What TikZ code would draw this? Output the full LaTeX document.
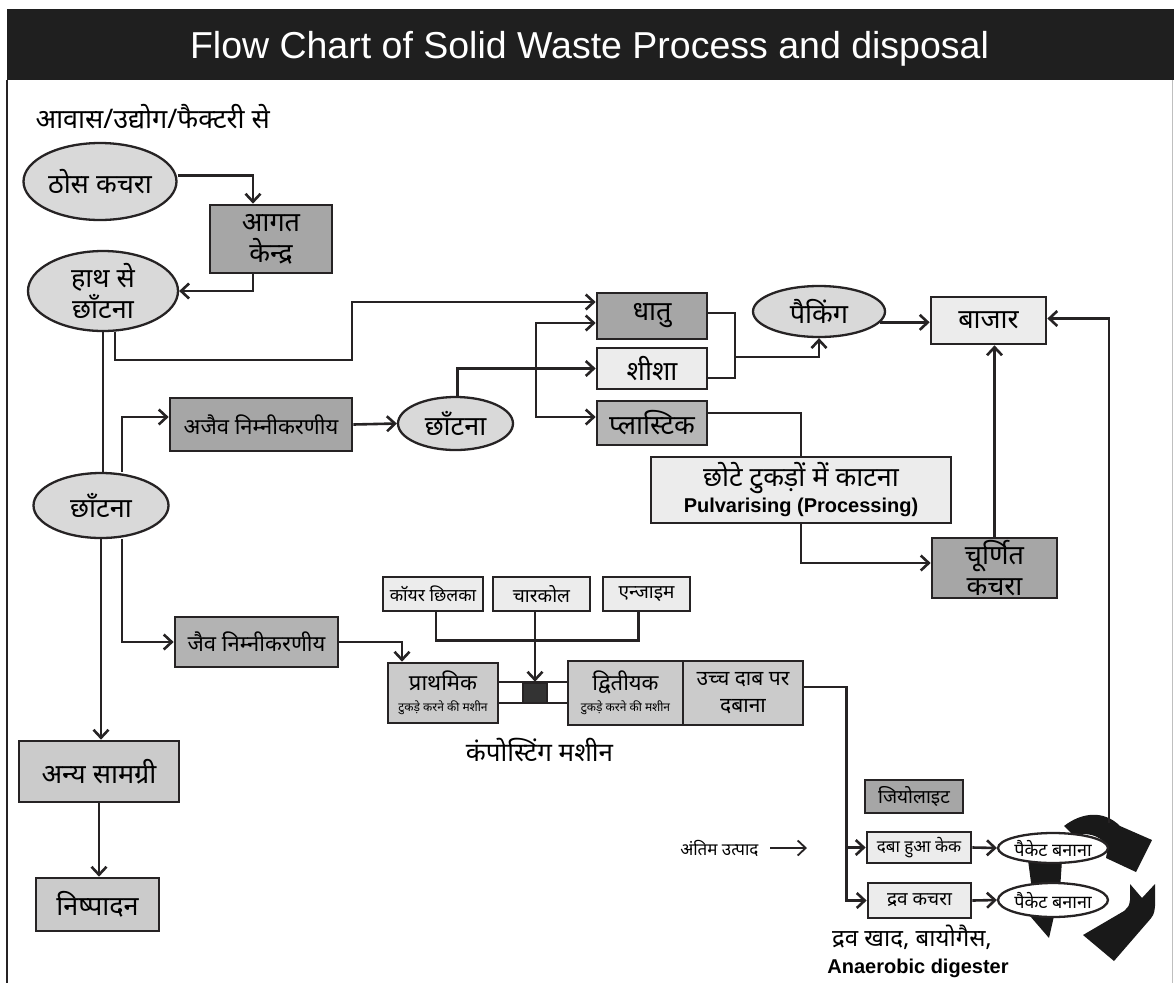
\documentclass[tikz,border=0pt]{standalone}
\usepackage{fontspec}
\setmainfont{Noto Sans}[Script=Devanagari]
\newfontfamily\latinfont{Liberation Sans}
\usetikzlibrary{positioning, calc, arrows.meta, shapes.geometric}
\definecolor{boxdark}{RGB}{166,166,166}
\definecolor{boxplast}{RGB}{182,182,182}
\definecolor{boxmid}{RGB}{203,203,203}
\definecolor{boxlight}{RGB}{236,236,236}
\definecolor{ovalgray}{RGB}{217,217,217}
\definecolor{inkline}{RGB}{38,35,36}

\begin{document}
\begin{tikzpicture}[x=1pt, y=-1pt,
  hin/.style={font=\fontsize{27}{31}\selectfont},
  hinsmall/.style={font=\fontsize{19}{22}\selectfont},
  stage/.style={rectangle, draw=inkline, line width=2.7pt, inner sep=0pt, align=center, hin},
  darkstage/.style={stage, fill=boxdark},
  midstage/.style={stage, fill=boxmid},
  lightstage/.style={stage, fill=boxlight},
  oval/.style={ellipse, draw=inkline, line width=2.3pt, fill=ovalgray, inner xsep=-6pt, inner ysep=-10pt, align=center, hin},
  packoval/.style={ellipse, draw=inkline, line width=2.3pt, fill=white, inner xsep=-14pt, inner ysep=-4pt, font=\fontsize{18}{20}\selectfont},
  wire/.style={draw=inkline, line width=2.6pt},
  conn/.style={wire, -{Straight Barb[length=8pt, width=15pt]}},
  cycfill/.style={fill=black!90}
]
\useasboundingbox (0,0) rectangle (1174,983);

% frame and title bar
\fill[black!88] (7,9) rectangle (1174,80);
\node[font=\latinfont\fontsize{37.5}{40}\selectfont, text=white, anchor=base] (title) at (589.5,58) {Flow Chart of Solid Waste Process and disposal};
\draw[inkline, line width=2.6pt] (7,80) -- (7,983);
\draw[black!25, line width=1pt] (1172,80) -- (1172,983);

% left column
\node[hin, anchor=west] (source) at (32,117) {आवास/उद्योग/फैक्टरी से};
\node[oval, minimum width=153, minimum height=77] (thos) at (100,181.5) {ठोस कचरा};
\node[darkstage, minimum width=122, minimum height=68] (aagat) at (271,239) {आगत\\केन्द्र};
\node[oval, minimum width=150, minimum height=80] (haath) at (103,291) {हाथ से\\छाँटना};
\node[oval, minimum width=135, minimum height=65] (chhant1) at (101,505.5) {छाँटना};
\node[darkstage, font=\fontsize{22}{26}\selectfont, minimum width=182, minimum height=53] (ajaiv) at (261,424.5) {अजैव निम्नीकरणीय};
\node[oval, minimum width=115, minimum height=53] (chhant2) at (455.5,423.5) {छाँटना};
\node[darkstage, fill=boxdark!85!white, font=\fontsize{22}{26}\selectfont, minimum width=163, minimum height=50] (jaiv) at (256.5,642) {जैव निम्नीकरणीय};
\node[midstage, minimum width=160, minimum height=61] (anya) at (99,771.5) {अन्य सामग्री};
\node[midstage, minimum width=123, minimum height=53] (nishpadan) at (97.5,904.5) {निष्पादन};

% recyclables
\node[darkstage, minimum width=110, minimum height=46] (dhatu) at (652,316) {धातु};
\node[lightstage, minimum width=110, minimum height=41] (shisha) at (652,368.5) {शीशा};
\node[stage, fill=boxplast, minimum width=110, minimum height=44] (plastic) at (652,423) {प्लास्टिक};
\node[oval, minimum width=132, minimum height=51] (packing) at (819,311.5) {पैकिंग};
\node[lightstage, minimum width=115, minimum height=47] (bazar) at (988.5,320.5) {बाजार};
\node[lightstage, minimum width=300, minimum height=66] (pulv) at (801,490)
  {छोटे टुकड़ों में काटना\\[-5pt]{\latinfont\bfseries\fontsize{20}{22}\selectfont Pulvarising (Processing)}};
\node[darkstage, minimum width=125, minimum height=60] (churnit) at (994.5,568) {चूर्णित\\कचरा};

% composting machine
\node[lightstage, font=\fontsize{17.5}{20}\selectfont, minimum width=100, minimum height=34] (coir) at (433,594) {कॉयर छिलका};
\node[lightstage, hinsmall, minimum width=97, minimum height=34] (charcoal) at (541.5,594) {चारकोल};
\node[lightstage, hinsmall, minimum width=87, minimum height=34] (enzyme) at (646.5,594) {एन्जाइम};
\node[midstage, minimum width=110, minimum height=60, font=\fontsize{22}{21}\selectfont] (prathamik) at (443,693)
  {प्राथमिक\\{\fontsize{12}{14}\selectfont टुकड़े करने की मशीन}};
\node[midstage, minimum width=115, minimum height=64, font=\fontsize{22}{21}\selectfont] (dwitiyak) at (625.5,693)
  {द्वितीयक\\{\fontsize{12}{14}\selectfont टुकड़े करने की मशीन}};
\node[midstage, minimum width=120, minimum height=64, font=\fontsize{21}{27}\selectfont] (uchch) at (743,693) {उच्च दाब पर\\दबाना};
\node[font=\fontsize{26}{28}\selectfont] (compost) at (539.5,750) {कंपोस्टिंग मशीन};

% end products
\node[darkstage, hinsmall, minimum width=98, minimum height=33] (jiolite) at (914,796.5) {जियोलाइट};
\node[lightstage, font=\fontsize{17}{20}\selectfont, minimum width=104, minimum height=31] (daba) at (919,847.5) {दबा हुआ केक};
\node[lightstage, hinsmall, minimum width=103, minimum height=35] (drav) at (919.5,900.5) {द्रव कचरा};
\node[font=\fontsize{17}{20}\selectfont, anchor=east] (antim) at (762,848) {अंतिम उत्पाद};
\coordinate (antimtip) at (807,848);
\node[font=\fontsize{24}{26}\selectfont] (byprod) at (912,937) {द्रव खाद, बायोगैस,};
\node[font=\latinfont\bfseries\fontsize{20}{22}\selectfont] (anaerobic) at (918,968) {Anaerobic digester};

% recycling arrows (under the packet ovals)
\fill[cycfill] (1064,826) .. controls (1082,812) and (1104,810) .. (1120,826)
  -- (1152,840) -- (1136,872) -- (1106,858) -- (1108,846)
  .. controls (1098,834) and (1086,832) .. (1074,836) -- cycle;
\fill[cycfill] (1130,884) -- (1142,898) -- (1155,884) -- (1155,906)
  .. controls (1154,915) .. (1146,924) -- (1114,961) -- (1083,935) -- (1124,911)
  .. controls (1129,906) .. (1130,900) -- cycle;
\fill[cycfill] (1030,916) -- (1054,916) -- (1049,938) -- cycle;
\fill[cycfill] (1028,860) -- (1062,860) -- (1060,890) -- (1032,890) -- cycle;
\node[packoval, minimum width=110, minimum height=30] (packet1) at (1053,848) {पैकेट बनाना};
\node[packoval, minimum width=110, minimum height=34] (packet2) at (1053,900) {पैकेट बनाना};
\node[darkstage, fill=black!80, minimum width=24, minimum height=20] (sq) at (535,693) {};

% connectors
\draw[conn] ([yshift=6pt]thos.east) -| ([xshift=-18pt]aagat.north);
\draw[conn] ([xshift=-18pt]aagat.south) |- (haath.east);
\draw[conn] ([xshift=12pt]haath.south) -- ++(0,28) -- ++(237,0) |- ([yshift=14pt]dhatu.west);
\draw[wire] (haath.south) -- (haath.south |- chhant1.north);
\draw[conn] ([xshift=21pt]chhant1.north) |- ([yshift=7.5pt]ajaiv.west);
\draw[conn] ([xshift=21pt]chhant1.south) |- (jaiv.west);
\draw[conn] (chhant1.south) -- (chhant1.south |- anya.north);
\draw[conn] (anya.south) -- (anya.south |- nishpadan.north);
\draw[conn] (ajaiv.east) -- (chhant2.west);
\draw[conn] ([xshift=2pt]chhant2.north) |- (shisha.west);
\coordinate (split) at (536,368.5);
\draw[conn] (split) |- ([yshift=-7pt]dhatu.west);
\draw[conn] (split) |- ([yshift=6pt]plastic.west);
\coordinate (join) at (735,357);
\draw[wire] ([yshift=3pt]dhatu.east) -| (join) |- ([yshift=-9.5pt]shisha.east);
\draw[conn] (join) -| (packing.south);
\draw[conn] (packing.-10) -- (packing.-10 -| bazar.west);
\draw[wire] ([yshift=10pt]plastic.east) -| (pulv.north);
\draw[conn] (pulv.south) |- ([yshift=5pt]churnit.west);
\draw[conn] (churnit.north) -- (churnit.north |- bazar.south);
\draw[wire] ([xshift=3pt]coir.south) -- ++(0,28) -| ([xshift=-8pt]enzyme.south);
\draw[conn] (sq.north |- charcoal.south) -- (sq.north);
\draw[conn] (jaiv.east) -| ([xshift=-41pt]prathamik.north);
\draw[wire] ([yshift=11pt]prathamik.east) -- ([yshift=11pt]prathamik.east -| dwitiyak.west);
\draw[wire] ([yshift=-10pt]prathamik.east) -- ([yshift=-10pt]prathamik.east -| dwitiyak.west);
\draw[conn] ([yshift=6pt]uchch.east) -| ([xshift=-19pt]daba.west) -- (daba.west);
\draw[conn] ([xshift=-19pt]daba.west) |- (drav.west);
\draw[conn] (daba.east) -- (packet1.west);
\draw[conn] (drav.east) -- (packet2.west);
\draw[conn, line width=1.8pt] ([xshift=8pt]antim.east) -- (antimtip);
\coordinate (cycle) at (1109,823);
\draw[conn] (cycle) |- ([yshift=2pt]bazar.east);
\end{tikzpicture}
\end{document}
